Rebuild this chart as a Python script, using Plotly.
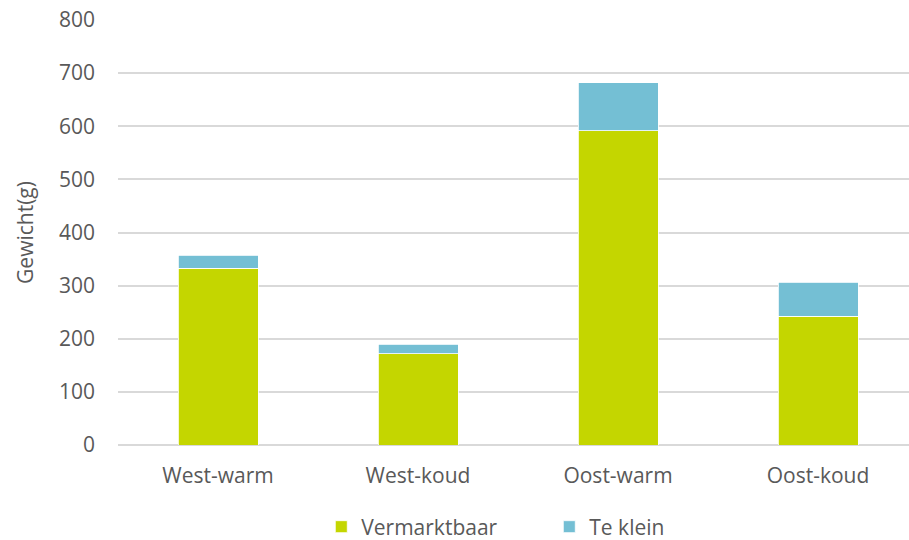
import plotly.graph_objects as go

categories = ["West-warm", "West-koud", "Oost-warm", "Oost-koud"]
vermarktbaar = [333, 172, 592, 242]
te_klein = [24, 18, 90, 64]
y_ticks = [0, 100, 200, 300, 400, 500, 600, 700, 800]

FONT = "Open Sans"
TXT = "#595959"
FS = 21

fig = go.Figure()
fig.add_trace(go.Bar(
    x=categories, y=vermarktbaar, name="Vermarktbaar",
    marker=dict(color="#c4d600", line=dict(color="#ffffff", width=0.8)),
    width=0.4,
))
fig.add_trace(go.Bar(
    x=categories, y=te_klein, name="Te klein",
    marker=dict(color="#74bfd4", line=dict(color="#ffffff", width=0.8)),
    width=0.4,
))

fig.update_layout(
    barmode="stack",
    width=909, height=540,
    margin=dict(l=118, r=0, t=20, b=95, autoexpand=False),
    paper_bgcolor="white", plot_bgcolor="white",
    font=dict(family=FONT, size=FS, color=TXT),
    showlegend=True,
    legend=dict(
        orientation="h", x=0.257, xanchor="left", y=-0.193, yanchor="middle",
        font=dict(family=FONT, size=FS, color=TXT),
        itemwidth=30, traceorder="normal",
        entrywidthmode="pixels", entrywidth=183,
    ),
    xaxis=dict(
        range=[-0.5, 3.455], showgrid=False, zeroline=False, showline=False,
        ticks="", ticklabelstandoff=16,
        tickfont=dict(family=FONT, size=FS, color=TXT),
    ),
    yaxis=dict(
        range=[0, 800], tickvals=y_ticks, showgrid=True,
        gridcolor="#d9d9d9", gridwidth=1.5, zeroline=True,
        zerolinecolor="#d9d9d9", zerolinewidth=1.5,
        showline=False, ticks="", ticklabelstandoff=22,
        tickfont=dict(family=FONT, size=FS, color=TXT),
        title=dict(text="Gewicht(g)", standoff=19,
                   font=dict(family=FONT, size=FS, color=TXT)),
    ),
)

fig.write_html("out.html")
